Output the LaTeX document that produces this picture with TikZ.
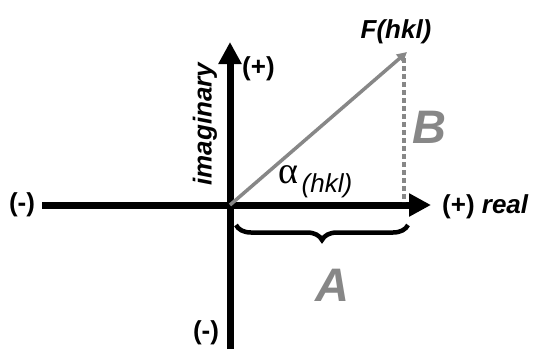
\documentclass[tikz,border=0pt]{standalone}
\usepackage{fontspec}
\setmainfont{Liberation Sans}
\newfontfamily\serifalpha{Liberation Serif}
\usetikzlibrary{arrows.meta,decorations.pathreplacing}
\definecolor{vgray}{RGB}{135,135,135}
\tikzset{
  axis/.style={line width=7pt,-{Triangle[width=22pt,length=22pt]}},
  lbl/.style={font=\bfseries\fontsize{26}{26}\selectfont,inner sep=0pt},
  ilbl/.style={font=\bfseries\itshape\fontsize{26}{26}\selectfont,inner sep=0pt},
  big/.style={font=\bfseries\itshape\fontsize{47}{47}\selectfont,text=vgray,inner sep=0pt},
  vec/.style={line width=3.5pt,draw=vgray,-{Triangle[width=10pt,length=10pt]}},
  dots/.style={line width=4pt,draw=vgray,dash pattern=on 5pt off 3pt},
  bracestyle/.style={line width=4.5pt,decorate,decoration={brace,mirror,amplitude=15pt}}
}
\begin{document}
\begin{tikzpicture}[x=1pt,y=-1pt]
\useasboundingbox (0,0) rectangle (542,349);
\coordinate (O) at (230,205);
\coordinate (xl) at (42,205);
\coordinate (xr) at (431,205);
\coordinate (yb) at (230,349);
\coordinate (yt) at (230,42);
\coordinate (F) at (407,52);
\coordinate (Dt) at (404,58);
\coordinate (Db) at (404,202);
\coordinate (bl) at (236,225);
\coordinate (br) at (408,225);
\draw[line width=7pt] (xl) -- (O);
\draw[axis] (O) -- (xr);
\draw[line width=7pt] (yb) -- (O);
\draw[axis] (O) -- (yt);
\draw[dots] (Dt) -- (Db);
\draw[vec] (O) -- (F);
\draw[bracestyle] (bl) -- (br);
\node[lbl] (mx) at (22,205) {(-)};
\node[lbl] (my) at (206,333) {(-)};
\node[lbl,anchor=west] (py) at (242,69) {(+)};
\node[lbl,anchor=west] (px) at (442,207) {(+) \textit{real}};
\node[ilbl,rotate=90] (im) at (205,124) {imaginary};
\node[ilbl] (Fl) at (396,32) {F(hkl)};
\node[big] (B) at (429,127) {B};
\node[big] (A) at (332,285) {A};
\node[inner sep=0pt,font=\serifalpha\fontsize{38}{38}\selectfont] (al) at (288,175) {α};
\node[inner sep=0pt,font=\itshape\fontsize{26}{26}\selectfont] (hkl) at (327,186) {(hkl)};
\end{tikzpicture}
\end{document}
